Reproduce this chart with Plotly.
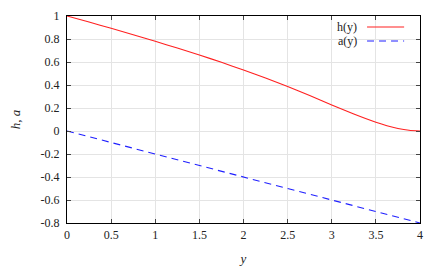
import plotly.graph_objects as go

y_vals = [0, 0.25, 0.5, 0.75, 1.0, 1.25, 1.5, 1.75, 2.0, 2.25, 2.5, 2.75, 3.0, 3.25, 3.5, 3.625, 3.75, 3.875, 4.0]
h_vals = [1.0, 0.947, 0.893, 0.837, 0.78, 0.721, 0.661, 0.597, 0.53, 0.46, 0.387, 0.308, 0.226, 0.148, 0.076, 0.046, 0.022, 0.006, 0.0]
a_x = [0, 0.5, 1.0, 1.5, 2.0, 2.5, 3.0, 3.5, 4.0]
a_vals = [0, -0.1, -0.2, -0.3, -0.4, -0.5, -0.6, -0.7, -0.8]

x_ticks = [0, 0.5, 1, 1.5, 2, 2.5, 3, 3.5, 4]
x_tick_labels = ["0", "0.5", "1", "1.5", "2", "2.5", "3", "3.5", "4"]
y_ticks = [-0.8, -0.6, -0.4, -0.2, 0, 0.2, 0.4, 0.6, 0.8, 1]
y_tick_labels = ["-0.8", "-0.6", "-0.4", "-0.2", "0", "0.2", "0.4", "0.6", "0.8", "1"]

RED = "#ff2020"
BLUE = "#2020ff"
FONT = "Liberation Serif, Times New Roman, serif"

fig = go.Figure()
fig.add_trace(go.Scatter(x=y_vals, y=h_vals, mode="lines", name="h(y)",
                         line=dict(color=RED, width=1.1, shape="spline", smoothing=0.6)))
fig.add_trace(go.Scatter(x=a_x, y=a_vals, mode="lines", name="a(y)",
                         line=dict(color=BLUE, width=1.1, dash="7px,5px")))

axis_common = dict(showline=True, linecolor="black", linewidth=1.2, mirror="allticks",
                   ticks="inside", ticklen=4, tickcolor="#444", tickwidth=1,
                   showgrid=True, gridcolor="#e4e4e4", gridwidth=1, zeroline=False,
                   automargin=False,
                   tickfont=dict(family=FONT, size=12, color="#222"))

fig.update_xaxes(range=[0, 4], tickvals=x_ticks, ticktext=x_tick_labels,
                 title=dict(text="<i>y</i>", font=dict(family=FONT, size=13, color="#222"), standoff=13),
                 **axis_common)
fig.update_yaxes(range=[-0.8, 1], tickvals=y_ticks, ticktext=y_tick_labels, ticklabelstandoff=4,
                 title=dict(text="<i>h, a</i>", font=dict(family=FONT, size=13, color="#222"), standoff=20),
                 **axis_common)

# gnuplot-style legend: text then line sample to its right
fig.add_annotation(x=0.827, y=0.947, xref="paper", yref="paper", text="h(y)", showarrow=False,
                   xanchor="right", yanchor="middle", font=dict(family=FONT, size=12, color="#222"))
fig.add_annotation(x=0.827, y=0.879, xref="paper", yref="paper", text="a(y)", showarrow=False,
                   xanchor="right", yanchor="middle", font=dict(family=FONT, size=12, color="#222"))
fig.add_shape(type="line", xref="paper", yref="paper", x0=0.85, x1=0.955, y0=0.947, y1=0.947,
              line=dict(color=RED, width=1.1))
fig.add_shape(type="line", xref="paper", yref="paper", x0=0.85, x1=0.955, y0=0.879, y1=0.879,
              line=dict(color=BLUE, width=1.1, dash="7px,5px"))

# page body has an 8px default margin, so the figure is sized to fit the rest of the window
fig.update_layout(width=437, height=259, margin=dict(l=59, r=25, t=8, b=44),
                  font=dict(family=FONT, size=12, color="#222"),
                  plot_bgcolor="white", paper_bgcolor="white", showlegend=False)

fig.write_html("out.html")
